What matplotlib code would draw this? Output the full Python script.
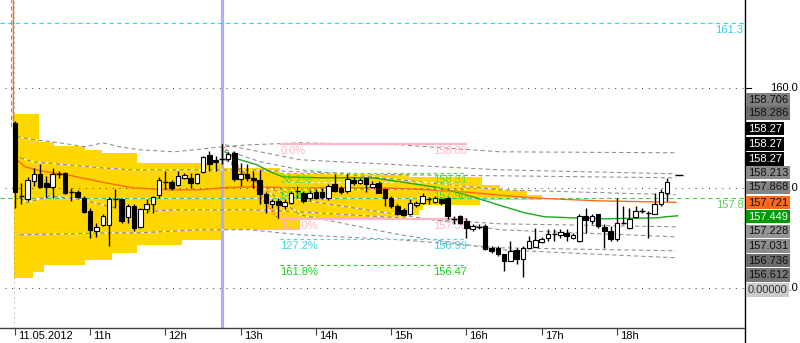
import numpy as np
import matplotlib
matplotlib.use("Agg")
import matplotlib.pyplot as plt
from matplotlib.lines import Line2D

plt.rcParams['font.family'] = ['Liberation Sans', 'DejaVu Sans']
plt.rcParams['font.size'] = 8

# 5 minute bars of 11.05.2012, bar 0 = 10:00, last bar = 18:40
opens = [159.30, 157.85, 157.79, 158.15, 158.29, 158.11, 158.03, 158.29, 158.31, 157.93,
         157.93, 157.81, 157.55, 157.15, 157.27, 157.27, 157.79, 157.79, 157.43, 157.65,
         157.23, 157.59, 157.69, 157.87, 158.13, 158.13, 158.07, 158.21, 158.21, 158.11,
         158.33, 158.67, 158.57, 158.59, 158.59, 158.71, 158.19, 158.29, 158.21, 158.17,
         157.89, 157.69, 157.75, 157.65, 157.71, 157.95, 157.91, 157.81, 157.93, 157.93,
         157.81, 158.09, 158.01, 157.95, 158.17, 158.11, 158.21, 158.03, 158.11, 157.99,
         157.81, 157.65, 157.57, 157.49, 157.67, 157.71, 157.79, 157.73, 157.79, 157.81,
         157.39, 157.45, 157.35, 157.19, 157.23, 157.25, 156.81, 156.81, 156.69, 156.55,
         156.77, 156.59, 156.81, 156.83, 156.93, 157.01, 157.09, 157.07, 157.11, 157.01,
         156.95, 157.45, 157.35, 157.49, 157.23, 157.15, 156.99, 157.31, 157.21, 157.43,
         157.55, 157.51, 157.49, 157.69, 157.91]
highs = [159.35, 158.11, 158.23, 158.41, 158.49, 158.25, 158.41, 158.35, 158.33, 158.01,
         157.97, 157.85, 157.61, 157.31, 157.49, 157.83, 157.99, 157.81, 157.69, 157.69,
         157.61, 157.79, 157.85, 158.23, 158.35, 158.17, 158.35, 158.31, 158.31, 158.31,
         158.65, 158.75, 158.65, 158.88, 158.73, 158.75, 158.51, 158.49, 158.35, 158.37,
         157.93, 157.79, 157.81, 157.79, 157.95, 158.05, 157.95, 158.01, 157.99, 158.01,
         158.09, 158.29, 158.05, 158.29, 158.23, 158.21, 158.23, 158.15, 158.15, 158.01,
         157.85, 157.69, 157.61, 157.79, 157.75, 157.91, 157.83, 157.85, 157.83, 157.85,
         157.45, 157.47, 157.41, 157.29, 157.29, 157.29, 156.85, 156.85, 156.69, 156.95,
         156.81, 156.85, 157.05, 157.21, 157.03, 157.19, 157.19, 157.19, 157.19, 157.11,
         157.49, 157.61, 157.49, 157.49, 157.29, 157.25, 157.81, 157.65, 157.61, 157.65,
         157.61, 157.55, 157.91, 157.99, 158.21]
lows = [157.61, 157.69, 157.75, 158.05, 158.01, 157.81, 157.81, 158.21, 157.89, 157.75,
        157.81, 157.51, 157.01, 157.03, 157.25, 156.85, 157.61, 157.31, 157.31, 157.15,
        157.21, 157.51, 157.51, 157.81, 157.99, 157.97, 158.05, 158.19, 158.01, 158.09,
        158.31, 158.35, 158.35, 158.49, 158.55, 158.15, 158.05, 158.15, 158.01, 157.69,
        157.51, 157.61, 157.41, 157.59, 157.69, 157.81, 157.71, 157.77, 157.79, 157.79,
        157.77, 157.93, 157.89, 157.91, 158.07, 158.09, 157.93, 158.01, 157.91, 157.65,
        157.61, 157.47, 157.45, 157.47, 157.63, 157.69, 157.69, 157.71, 157.67, 157.39,
        157.29, 157.29, 157.01, 157.15, 157.19, 156.77, 156.71, 156.65, 156.35, 156.55,
        156.49, 156.22, 156.79, 156.83, 156.91, 156.95, 156.95, 157.01, 156.95, 156.99,
        156.93, 157.11, 157.29, 157.21, 156.81, 156.95, 156.95, 157.29, 157.19, 157.41,
        157.51, 157.01, 157.49, 157.65, 157.75]
closes = [157.93, 157.83, 158.17, 158.29, 158.03, 158.03, 158.29, 158.28, 157.91, 157.92,
          157.83, 157.53, 157.17, 157.23, 157.45, 157.79, 157.78, 157.35, 157.65, 157.21,
          157.59, 157.69, 157.83, 158.17, 158.12, 158.01, 158.25, 158.27, 158.11, 158.29,
          158.63, 158.49, 158.53, 158.58, 158.69, 158.19, 158.29, 158.21, 158.17, 157.89,
          157.71, 157.75, 157.67, 157.73, 157.91, 157.94, 157.75, 157.91, 157.81, 157.83,
          158.05, 157.95, 157.93, 158.19, 158.11, 158.17, 158.09, 158.09, 157.91, 157.81,
          157.65, 157.49, 157.47, 157.71, 157.71, 157.85, 157.78, 157.81, 157.71, 157.45,
          157.38, 157.31, 157.21, 157.25, 157.22, 156.79, 156.75, 156.69, 156.55, 156.75,
          156.59, 156.81, 156.95, 156.97, 156.99, 157.09, 157.08, 157.13, 157.05, 157.07,
          157.45, 157.37, 157.45, 157.25, 157.15, 156.99, 157.31, 157.29, 157.39, 157.55,
          157.54, 157.50, 157.69, 157.93, 158.13]

tick_bars = [0, 12, 24, 36, 48, 60, 72, 84, 96]
tick_labels = ['11.05.2012', '11h', '12h', '13h', '14h', '15h', '16h', '17h', '18h']

# volume profile: price bands (top, bottom) and length in bars
profile_top = [159.49, 158.92, 158.84, 158.77, 158.71, 158.51, 158.41, 158.31, 158.23,
               158.07, 157.97, 157.87, 157.77, 157.67, 157.57, 157.47, 157.37, 157.17,
               156.97, 156.87, 156.71, 156.57, 156.47, 156.33]
profile_bottom = profile_top[1:] + [156.21]
profile_len = [4.0, 6.4, 11.2, 14.0, 19.5, 33.0, 42.3, 63.0, 74.6, 77.4, 81.7, 84.2,
               74.2, 65.1, 64.6, 62.5, 45.5, 33.0, 26.8, 19.5, 15.6, 11.2, 4.8, 2.9]

# day VWAP (orange) and VWAP from 12:45 (green)
orange_bar = [-0.25, -0.25, 0.3, 1.6, 4.0, 8.3, 13.6, 18.8, 24.2, 29.5, 33.0, 37.5, 45.5,
              58.7, 66.2, 71.5, 82.1, 92.8, 105.4]
orange_px = [162.0, 159.37, 158.57, 158.43, 158.35, 158.27, 158.13, 158.01, 157.97, 157.97,
             158.01, 158.03, 158.01, 158.01, 157.97, 157.93, 157.81, 157.75, 157.72]
green_bar = [33.5, 35.4, 38.6, 40.7, 42.7, 48.6, 57.1, 62.5, 67.8, 73.0, 78.1, 81.3, 84.5,
             88.8, 94.1, 102.6, 103.7, 105.7]
green_px = [158.73, 158.59, 158.47, 158.33, 158.23, 158.21, 158.21, 158.11, 158.01, 157.83,
            157.63, 157.51, 157.43, 157.41, 157.39, 157.41, 157.43, 157.45]

# deviation bands (grey dashed)
bands = [
    ([-0.55, -0.55, 0.5, 3.2, 7.2, 11.2, 14.0, 16.7, 19.9, 25.5, 33.0, 37.5, 45.5, 61.4, 77.4, 105.4],
     [162.0, 159.2, 159.03, 158.97, 158.91, 158.83, 158.91, 158.83, 158.77, 158.73, 158.83,
      158.87, 158.91, 158.87, 158.73, 158.71]),
    ([0.8, 2.9, 8.3, 13.6, 18.8, 25.5, 37.5, 45.5, 61.4, 77.4, 105.4],
     [158.61, 158.53, 158.47, 158.41, 158.37, 158.37, 158.37, 158.33, 158.27, 158.25, 158.21]),
    ([0.8, 1.9, 5.6, 10.8, 15.2, 19.9, 25.5, 37.5, 45.5, 61.4, 77.4, 105.4],
     [157.81, 157.71, 157.85, 157.77, 157.63, 157.53, 157.57, 157.57, 157.53, 157.41, 157.29, 157.23]),
    ([0.8, 15.6, 19.9, 29.5, 37.5, 45.5, 61.4, 77.4, 105.4],
     [157.07, 157.11, 157.11, 157.17, 157.17, 157.07, 156.97, 156.81, 156.75]),
    ([33.5, 45.5, 61.4, 77.4, 105.4], [158.87, 158.57, 158.47, 158.37, 158.29]),
    ([33.5, 39.1, 45.5, 61.4, 77.4, 105.4], [158.77, 158.53, 158.37, 158.17, 157.97, 157.87]),
    ([33.5, 39.1, 45.5, 61.4, 77.4, 105.4], [158.61, 158.07, 157.77, 157.47, 157.17, 157.03]),
    ([33.5, 45.5, 61.4, 77.4, 105.4], [158.57, 157.47, 157.07, 156.77, 156.61]),
]

# fibonacci retracement
fib_levels = [158.88, 158.31, 158.13, 157.98, 157.38, 156.99, 156.47]
fib_names = ['0.0%', '38.2%', '50.0%', '61.8%', '100.0%', '127.2%', '161.8%']
fib_colors = ['#FFB6C1', '#55DD22', '#F2D200', '#33DD33', '#FFB6C1', '#40D8E0', '#22CC22']
fib_from, fib_to = 42.3, 72.1

# price labels on the right
box_text = ['158.706', '158.286', '158.27', '158.27', '158.27', '158.213', '157.868',
            '157.721', '157.449', '157.228', '157.031', '156.736', '156.612', '0.00000']
box_bg = ['#7F7F7F', '#6E6E6E', '#000000', '#000000', '#000000', '#8A8A8A', '#858585',
          '#FF6A1A', '#009A00', '#959595', '#8C8C8C', '#6C6C6C', '#767676', '#CBCBCB']
box_fg = ['#111111', '#111111', 'white', 'white', 'white', '#111111', '#111111',
          '#111111', 'white', '#111111', '#111111', '#111111', '#111111', '#333333']
box_y = [100, 113, 128.5, 144, 159, 172.5, 187.5, 202.5, 216.5, 231.5, 246, 260.5, 275, 290]

W, H = 800, 343
fig = plt.figure(figsize=(W / 100, H / 100), dpi=100)
fig.patch.set_facecolor('white')
ax = fig.add_axes([0, 15 / H, 745 / W, 328 / H])
ax.set_xlim(-2.39, 116.43)
ax.set_ylim(155.206, 161.766)
for s in ['left', 'top', 'right']:
    ax.spines[s].set_visible(False)
ax.spines['bottom'].set_color('#404040')
ax.spines['bottom'].set_linewidth(1.0)
ax.set_yticks([])
ax.set_xticks(tick_bars)
ax.set_xticklabels([])
ax.tick_params(axis='x', direction='out', length=5, width=0.8, color='#404040')
for b, lab in zip(tick_bars, tick_labels):
    ax.annotate(lab, xy=(b, 0), xycoords=('data', 'axes fraction'), xytext=(2.2, -2),
                textcoords='offset points', ha='left', va='top', fontsize=8, color='black')

# profile
for t, bt, ln in zip(profile_top, profile_bottom, profile_len):
    ax.barh((t + bt) / 2, ln, height=t - bt, left=-0.1, color='#FFD700', lw=0, zorder=1)

# grid and markers
for lvl in [156.0, 158.0, 160.0]:
    ax.hlines(lvl, -1.6, 116.43, colors='#404040', lw=0.72, linestyles=(0, (1, 5.7)), zorder=2)
ax.vlines(-0.15, 155.206, 161.766, colors='#909090', lw=0.72, linestyles=(0, (1, 4)), zorder=2)
ax.axvline(33, color='#AEAEF6', lw=2.3, zorder=2)
ax.axhline(161.3, color='#22DDEE', lw=0.8, ls=(0, (4, 3)), zorder=2)
ax.axhline(157.8, color='#44CC44', lw=0.8, ls=(0, (4, 3)), gapcolor='white', zorder=3)
ax.annotate('161.3', xy=(116.2, 161.3), xytext=(0, -1.5), textcoords='offset points',
            ha='right', va='top', color='#33CCEE', fontsize=8)
ax.annotate('157.8', xy=(116.2, 157.8), xytext=(0, -1.5), textcoords='offset points',
            ha='right', va='top', color='#66CC66', fontsize=8)

for bx, by in bands:
    ax.plot(bx, by, color='#8C8C8C', lw=0.75, ls=(0, (4, 3)), gapcolor='white', zorder=3)
ax.plot(orange_bar, orange_px, color='#FF6A1A', lw=1.0, zorder=4)
ax.plot(green_bar, green_px, color='#1AA81A', lw=1.0, zorder=4)

# fibo
ax.plot([33, 42], [158.88, 157.38], color='#FF3030', lw=0.8, ls=(0, (1, 2)), zorder=4)
for lvl, name, col in zip(fib_levels, fib_names, fib_colors):
    if name in ('0.0%', '100.0%'):
        ax.hlines(lvl, fib_from, fib_to, colors=col, lw=1.5, zorder=3)
    else:
        ax.plot([fib_from, fib_to], [lvl, lvl], color=col, lw=0.8, ls=(0, (3, 3)),
                gapcolor='white', zorder=3)
    ax.annotate(name, xy=(fib_from, lvl), xytext=(0, -1.5), textcoords='offset points',
                ha='left', va='top', color=col, fontsize=8, zorder=6)
    ax.annotate('%.2f' % lvl, xy=(fib_to, lvl), xytext=(0, -1.5), textcoords='offset points',
                ha='right', va='top', color=col, fontsize=8, zorder=6)

# candles
o = np.array(opens); h = np.array(highs); l = np.array(lows); c = np.array(closes)
x = np.arange(len(o))
ax.vlines(x, l, h, colors='black', lw=1.0, zorder=5)
up = c >= o
body_lo = np.minimum(o, c)
body_h = np.abs(c - o)
big = body_h > 0.025
ax.bar(x[big & up], body_h[big & up], bottom=body_lo[big & up], width=0.72,
       color='white', edgecolor='black', lw=0.8, zorder=6)
ax.bar(x[big & ~up], body_h[big & ~up], bottom=body_lo[big & ~up], width=0.72,
       color='black', edgecolor='black', lw=0.8, zorder=6)
ax.hlines(((o + c) / 2)[~big], x[~big] - 0.42, x[~big] + 0.42, colors='black', lw=1.0, zorder=6)
ax.hlines(158.27, 105.2, 106.6, colors='black', lw=1.0, zorder=6)

# right side scale
fig.add_artist(Line2D([745 / W, 745 / W], [0, 1], color='black', lw=1.0))
for lvl in [160.0, 158.0, 156.0]:
    yp = 88.3 + (160.0 - lvl) * 50
    fig.add_artist(Line2D([745 / W, 751 / W], [1 - yp / H, 1 - yp / H], color='black', lw=0.8))
    fig.text(798 / W, 1 - yp / H, '%.1f' % lvl, ha='right', va='center', fontsize=8)
for t, bg, fg, yp in zip(box_text, box_bg, box_fg, box_y):
    fig.text(748 / W, 1 - yp / H, t, ha='left', va='center', fontsize=8, color=fg,
             bbox=dict(boxstyle='square,pad=0.15', fc=bg, ec='none'))

fig.savefig('out.png', dpi=100)
